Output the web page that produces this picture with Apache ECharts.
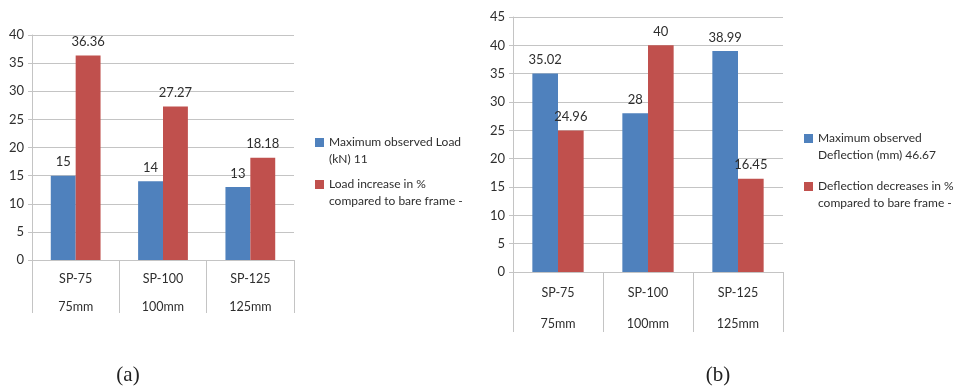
<!DOCTYPE html>
<html>
<head>
<meta charset="utf-8">
<script src="https://cdn.jsdelivr.net/npm/echarts@6/dist/echarts.min.js"></script>
<style>
  html, body { margin: 0; padding: 0; background: #fff; }
  #chart { width: 960px; height: 387px; }
</style>
</head>
<body>
<div id="chart"></div>
<script>
// Specimen groups shared by both panels
const specimens = ['SP-75', 'SP-100', 'SP-125'];
const infillThickness = ['75mm', '100mm', '125mm'];

// Panel (a): load
const loadSeriesNames = ['Maximum observed Load\n(kN) 11', 'Load increase in %\ncompared to bare frame -'];
const maxLoad = [15, 14, 13];
const loadIncrease = [36.36, 27.27, 18.18];

// Panel (b): deflection
const deflSeriesNames = ['Maximum observed\nDeflection (mm) 46.67', 'Deflection decreases in %\ncompared to bare frame -'];
const maxDeflection = [35.02, 28, 38.99];
const deflDecrease = [24.96, 40, 16.45];

const panelCaptions = ['(a)', '(b)'];

const BLUE = '#4F81BD';
const RED = '#C0504D';
const GRID_GRAY = '#c4c4c4';
const TEXT = '#2e2e2e';
const FONT = 'Lato';

const categoryLabels = specimens.map((s, i) => s + '\n' + infillThickness[i]);

function xAxisFor(gridIndex, tickLen, lineHeight) {
  return {
    type: 'category',
    gridIndex: gridIndex,
    data: categoryLabels,
    boundaryGap: true,
    axisLine: { lineStyle: { color: GRID_GRAY } },
    axisTick: { show: true, length: tickLen, lineStyle: { color: GRID_GRAY } },
    axisLabel: {
      margin: 5,
      color: TEXT,
      fontFamily: FONT,
      fontSize: 12.5,
      lineHeight: lineHeight
    }
  };
}

function yAxisFor(gridIndex, max) {
  return {
    type: 'value',
    gridIndex: gridIndex,
    min: 0,
    max: max,
    interval: 5,
    axisLine: { show: true, lineStyle: { color: GRID_GRAY } },
    axisTick: { show: true, length: 4, lineStyle: { color: GRID_GRAY } },
    splitLine: { lineStyle: { color: GRID_GRAY } },
    axisLabel: { color: TEXT, fontFamily: FONT, fontSize: 13, margin: 8 }
  };
}

function barSeries(name, data, color, axisIndex) {
  return {
    type: 'bar',
    name: name,
    data: data,
    xAxisIndex: axisIndex,
    yAxisIndex: axisIndex,
    barGap: '0%',
    barCategoryGap: '43%',
    itemStyle: { color: color },
    label: {
      show: true,
      position: 'top',
      distance: 7,
      color: TEXT,
      fontFamily: FONT,
      fontSize: 13
    }
  };
}

// One legend block per series; a leading blank line keeps the swatch
// level with the first line of the two-line entry.
function legendItem(name, color, left, top) {
  return {
    data: [{ name: name, itemStyle: { color: color } }],
    orient: 'vertical',
    left: left,
    top: top,
    padding: 0,
    icon: 'rect',
    itemWidth: 9,
    itemHeight: 9,
    itemGap: 0,
    selectedMode: false,
    formatter: n => '\n' + n,
    textStyle: {
      color: TEXT,
      fontFamily: FONT,
      fontSize: 12,
      lineHeight: 17
    }
  };
}

const chart = echarts.init(document.getElementById('chart'), null, { renderer: 'canvas' });

chart.setOption({
  backgroundColor: '#ffffff',
  animation: false,
  title: [
    {
      text: panelCaptions[0], left: 123, top: 360, textAlign: 'center',
      textStyle: { fontFamily: 'Liberation Serif', fontWeight: 'normal', fontSize: 21, color: '#222' }
    },
    {
      text: panelCaptions[1], left: 713, top: 360, textAlign: 'center',
      textStyle: { fontFamily: 'Liberation Serif', fontWeight: 'normal', fontSize: 21, color: '#222' }
    }
  ],
  legend: [
    legendItem(loadSeriesNames[0], BLUE, 315, 117),
    legendItem(loadSeriesNames[1], RED, 315, 159),
    legendItem(deflSeriesNames[0], BLUE, 804, 113),
    legendItem(deflSeriesNames[1], RED, 804, 161)
  ],
  grid: [
    { left: 32, right: 666, top: 35, bottom: 127, containLabel: false },
    { left: 513, right: 177, top: 17, bottom: 115, containLabel: false }
  ],
  xAxis: [xAxisFor(0, 53, 28), xAxisFor(1, 60, 31)],
  yAxis: [yAxisFor(0, 40), yAxisFor(1, 45)],
  series: [
    barSeries(loadSeriesNames[0], maxLoad, BLUE, 0),
    barSeries(loadSeriesNames[1], loadIncrease, RED, 0),
    barSeries(deflSeriesNames[0], maxDeflection, BLUE, 1),
    barSeries(deflSeriesNames[1], deflDecrease, RED, 1)
  ]
});
</script>
</body>
</html>
